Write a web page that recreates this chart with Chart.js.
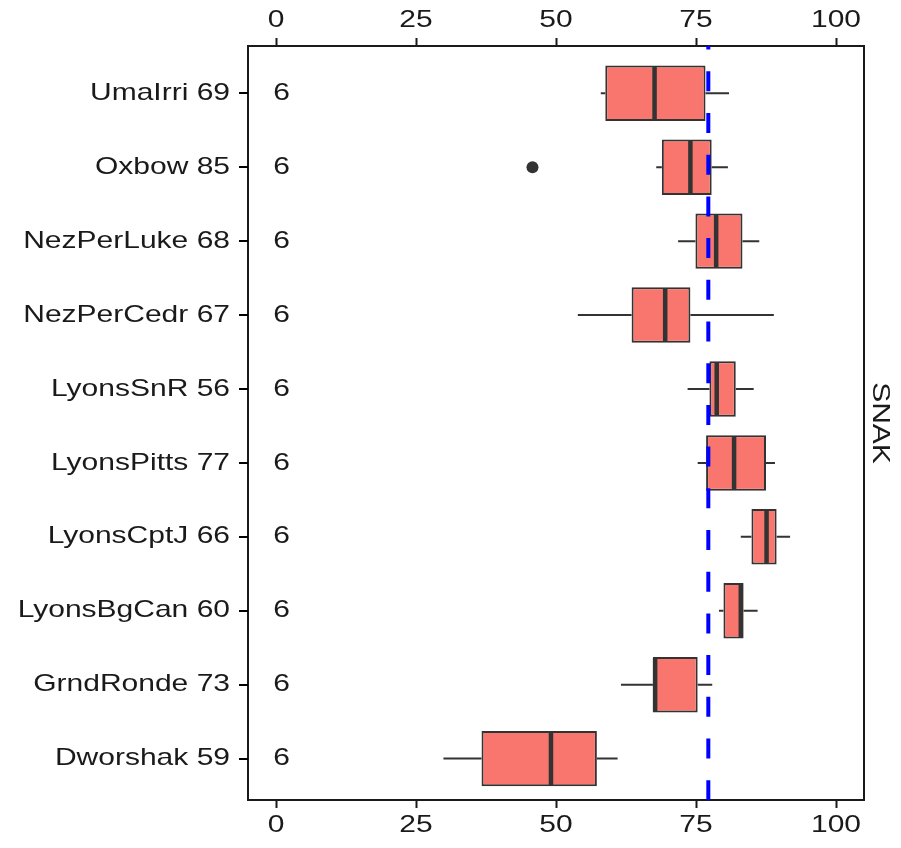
<!DOCTYPE html>
<html>
<head>
<meta charset="utf-8">
<script src="https://cdn.jsdelivr.net/npm/chart.js@4.4.1/dist/chart.umd.min.js"></script>
<style>
  html, body { margin: 0; padding: 0; background: #fff; }
  #wrap { position: relative; width: 901px; height: 848px; }
</style>
</head>
<body>
<div id="wrap"><canvas id="chart"></canvas></div>
<script>
// sites from top to bottom
const sites = ['UmaIrri 69', 'Oxbow 85', 'NezPerLuke 68', 'NezPerCedr 67', 'LyonsSnR 56',
               'LyonsPitts 77', 'LyonsCptJ 66', 'LyonsBgCan 60', 'GrndRonde 73', 'Dworshak 59'];
const lowWhisker  = [58.0, 67.9, 71.8, 53.9, 73.5, 75.3, 83.0, 79.1, 61.6, 29.9];
const q1          = [58.8, 68.9, 74.9, 63.5, 77.4, 76.8, 84.9, 79.9, 67.3, 36.7];
const median      = [67.6, 74.0, 78.6, 69.5, 78.7, 81.8, 87.6, 83.0, 67.7, 49.1];
const q3          = [76.7, 77.8, 83.3, 74.0, 82.1, 87.5, 89.4, 83.5, 75.3, 57.3];
const highWhisker = [80.9, 80.7, 86.3, 88.9, 85.3, 89.1, 91.8, 86.0, 77.9, 61.0];
const outliers = [{ site: 1, value: 45.8 }];
const counts = [6, 6, 6, 6, 6, 6, 6, 6, 6, 6];
const countPos = 1;
const refLine = 77.2;
const xTicks = [0, 25, 50, 75, 100];
const panelTitle = 'SNAK';

const FONT = { family: "'Liberation Sans', Arial, sans-serif", size: 24 };
const TEXT_STRETCH = 1.25;
const INK = '#1a1a1a';
const BOX_LINE = '#333333';

// the reference renders its text wide; stretch text along its own direction
const stretchText = {
    id: 'stretchText',
    beforeDraw(chart) {
        const ctx = chart.ctx;
        const fill = CanvasRenderingContext2D.prototype.fillText;
        ctx.fillText = function (text, x, y) {
            this.save();
            this.translate(x, y);
            this.scale(TEXT_STRETCH, 1);
            fill.call(this, text, 0, 0);
            this.restore();
        };
    },
    afterDraw(chart) {
        delete chart.ctx.fillText;
    }
};

const boxParts = {
    id: 'boxParts',
    beforeDatasetsDraw(chart) {
        const { ctx, scales: { x, y } } = chart;
        ctx.save();
        ctx.strokeStyle = BOX_LINE;
        ctx.lineWidth = 2;
        sites.forEach((s, i) => {
            const py = y.getPixelForValue(i);
            ctx.beginPath();
            ctx.moveTo(x.getPixelForValue(lowWhisker[i]), py);
            ctx.lineTo(x.getPixelForValue(q1[i]), py);
            ctx.moveTo(x.getPixelForValue(q3[i]), py);
            ctx.lineTo(x.getPixelForValue(highWhisker[i]), py);
            ctx.stroke();
        });
        ctx.restore();
    },
    afterDatasetsDraw(chart) {
        const { ctx, chartArea, scales: { x, y } } = chart;
        const half = Math.abs(y.getPixelForValue(1) - y.getPixelForValue(0)) * 0.75 / 2;
        ctx.save();
        ctx.strokeStyle = BOX_LINE;
        ctx.lineWidth = 4.5;
        sites.forEach((s, i) => {
            const py = y.getPixelForValue(i);
            const px = x.getPixelForValue(median[i]);
            ctx.beginPath();
            ctx.moveTo(px, py - half + 1);
            ctx.lineTo(px, py + half - 1);
            ctx.stroke();
        });

        // sample counts
        ctx.fillStyle = INK;
        ctx.font = FONT.size + 'px ' + FONT.family;
        ctx.textAlign = 'center';
        ctx.textBaseline = 'middle';
        counts.forEach((n, i) => {
            ctx.fillText(String(n), x.getPixelForValue(countPos), y.getPixelForValue(i));
        });

        // reference line
        const rx = x.getPixelForValue(refLine);
        ctx.strokeStyle = '#0000ff';
        ctx.lineWidth = 4;
        ctx.setLineDash([20, 21.7]);
        ctx.lineDashOffset = 16.4;
        ctx.beginPath();
        ctx.moveTo(rx, chartArea.top);
        ctx.lineTo(rx, chartArea.bottom);
        ctx.stroke();
        ctx.restore();
    },
    afterDraw(chart) {
        // tick marks of the site axis
        const { ctx, chartArea, scales: { y } } = chart;
        ctx.save();
        ctx.setLineDash([]);
        ctx.strokeStyle = '#000000';
        ctx.lineWidth = 2;
        sites.forEach((s, i) => {
            const py = Math.round(y.getPixelForValue(i));
            ctx.beginPath();
            ctx.moveTo(chartArea.left - 9, py);
            ctx.lineTo(chartArea.left, py);
            ctx.stroke();
        });
        ctx.restore();
    }
};

const setTicks = (values) => (scale) => { scale.ticks = values.map(v => ({ value: v })); };
const siteIdx = sites.map((s, i) => i);

const xAxis = (position, height) => ({
    type: 'linear',
    position: position,
    min: -5,
    max: 105,
    afterBuildTicks: setTicks(xTicks),
    afterFit: (scale) => { scale.height = height; },
    grid: { display: true, drawOnChartArea: false, drawTicks: true, tickLength: 8, tickWidth: 2, tickColor: INK },
    border: { display: true, color: INK, width: 2 },
    ticks: { color: INK, font: FONT, padding: 3, maxRotation: 0, autoSkip: false }
});

new Chart(document.getElementById('chart'), {
    data: {
        datasets: [{
            type: 'bar',
            data: sites.map((s, i) => ({ y: i, x: [q1[i], q3[i]] })),
            backgroundColor: '#F8766D',
            borderColor: BOX_LINE,
            borderWidth: 2,
            borderSkipped: false,
            categoryPercentage: 1,
            barPercentage: 0.75,
            xAxisID: 'x',
            yAxisID: 'y'
        }, {
            type: 'scatter',
            data: outliers.map(o => ({ x: o.value, y: o.site })),
            pointRadius: 6,
            pointBackgroundColor: BOX_LINE,
            pointBorderWidth: 0,
            xAxisID: 'x',
            yAxisID: 'y'
        }]
    },
    options: {
        indexAxis: 'y',
        responsive: true,
        maintainAspectRatio: false,
        animation: false,
        layout: { padding: 0 },
        plugins: { legend: { display: false }, tooltip: { enabled: false } },
        scales: {
            x: xAxis('bottom', 48),
            x2: xAxis('top', 46),
            y: {
                type: 'linear',
                position: 'left',
                reverse: true,
                offset: false,
                min: -0.64,
                max: 9.56,
                afterBuildTicks: setTicks(siteIdx),
                afterFit: (scale) => { scale.width = 248; },
                grid: { display: false, tickLength: 8 },
                border: { display: true, color: INK, width: 2 },
                ticks: { color: INK, font: FONT, padding: 10, autoSkip: false,
                         callback: (v) => sites[v] }
            },
            y2: {
                type: 'linear',
                position: 'right',
                offset: false,
                min: -0.64,
                max: 9.56,
                afterFit: (scale) => { scale.width = 37; },
                grid: { display: false },
                border: { display: true, color: INK, width: 2 },
                ticks: { display: false },
                title: { display: true, text: panelTitle, color: INK, font: FONT, padding: { top: 7, bottom: 0 } }
            }
        }
    },
    plugins: [stretchText, boxParts]
});
</script>
</body>
</html>
